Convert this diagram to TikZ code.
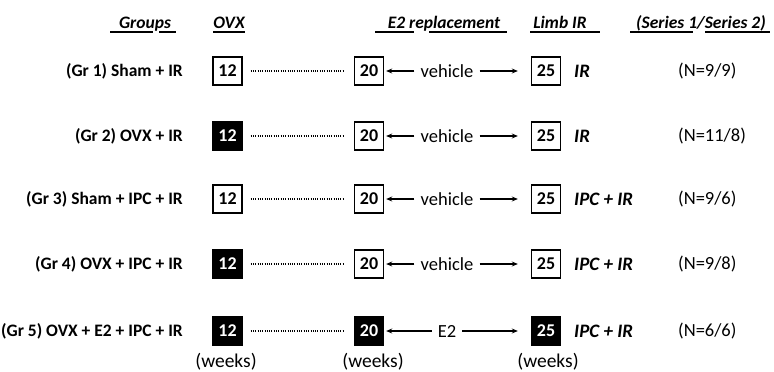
\documentclass[tikz,border=0pt]{standalone}
\usepackage{fontspec}
\setmainfont{Carlito}
\usetikzlibrary{arrows.meta}

\tikzset{
  grp/.style={anchor=east, font=\bfseries\fontsize{17.5}{20}\selectfont, inner sep=0pt},
  hdr/.style={font=\bfseries\itshape\fontsize{17.5}{20}\selectfont, inner sep=0pt, anchor=base},
  wk/.style={minimum width=29pt, minimum height=28pt, inner sep=0pt,
             font=\bfseries\fontsize{18}{20}\selectfont, line width=1.4pt},
  open/.style={wk, draw=black, fill=white, text=black},
  solid/.style={wk, draw=black, fill=black, text=white},
  mid/.style={font=\fontsize{18.5}{22}\selectfont, inner sep=0pt},
  proc/.style={anchor=west, font=\bfseries\itshape\fontsize{19}{21}\selectfont, inner sep=0pt},
  cnt/.style={anchor=west, font=\fontsize{18.5}{22}\selectfont, inner sep=0pt},
  weeks/.style={font=\fontsize{19.5}{22}\selectfont, inner sep=0pt},
  dots/.style={line width=1.2pt, dash pattern=on 0.9pt off 1.4pt},
  arr/.style={line width=1.2pt, -{Stealth[length=6pt, width=5pt]}},
  uline/.style={line width=1.4pt},
}

\begin{document}
\begin{tikzpicture}[x=1pt, y=-1pt]
  \useasboundingbox (0,0) rectangle (774,372);

  % column headings
  \node[hdr] (hgrp) at (145,28) {Groups};
  \node[hdr] (hovx) at (229,28) {OVX};
  \node[hdr] (he2)  at (444,28) {E2 replacement};
  \node[hdr] (hlimb) at (560,28) {Limb IR};
  \node[hdr] (hser) at (701,28) {(Series 1/Series 2)};

  % heading underlines (broken where descenders cross)
  \draw[uline] (110,32) -- (153,32) (159,32) -- (176,32);
  \draw[uline] (213,32) -- (245,32);
  \draw[uline] (375,32) -- (414,32) (429,32) -- (507,32);
  \draw[uline] (530,32) -- (600,32);
  \draw[uline] (630,32) -- (693,32) (705,32) -- (770,32);

  % rows: y, label, style of week-12 box, style of week-20/25 boxes, middle text, procedure, counts
  \foreach \i/\y/\lab/\sa/\sb/\m/\p/\n in {
      1/71/{(Gr 1) Sham + IR}/open/open/vehicle/IR/{(N=9/9)},
      2/136/{(Gr 2) OVX + IR}/solid/open/vehicle/IR/{(N=11/8)},
      3/199/{(Gr 3) Sham + IPC + IR}/open/open/vehicle/{IPC + IR}/{(N=9/6)},
      4/264/{(Gr 4) OVX + IPC + IR}/solid/open/vehicle/{IPC + IR}/{(N=9/8)},
      5/331/{(Gr 5) OVX + E2 + IPC + IR}/solid/solid/E2/{IPC + IR}/{(N=6/6)}} {
    \node[grp] (g\i) at (183,\y) {\lab};
    \node[\sa] (a\i) at (227.5,\y) {12};
    \node[\sb] (b\i) at (369,\y) {20};
    \node[\sb] (c\i) at (546,\y) {25};
    \node[mid] (m\i) at (447,\y) {\m};
    \node[proc] (p\i) at (574,\y) {\p};
    \node[cnt] (n\i) at (678,\y) {\n};
    \draw[dots] ([xshift=8pt]a\i.east) -- ([xshift=-10pt]b\i.west);
    \draw[arr] ([xshift=-6pt]m\i.west) -- ([xshift=2pt]b\i.east);
    \draw[arr] ([xshift=6pt]m\i.east) -- ([xshift=-13pt]c\i.west);
  }

  % time unit labels
  \node[weeks] (w1) at (226,362) {(weeks)};
  \node[weeks] (w2) at (373,362) {(weeks)};
  \node[weeks] (w3) at (548,362) {(weeks)};
\end{tikzpicture}
\end{document}
